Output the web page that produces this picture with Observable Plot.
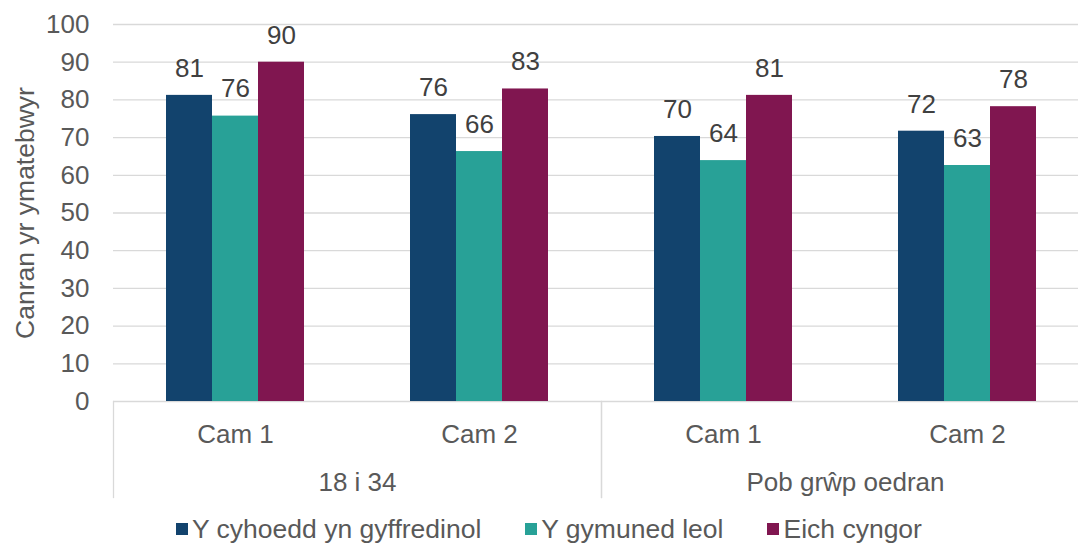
<!DOCTYPE html>
<html>
<head>
<meta charset="utf-8">
<script src="https://cdn.jsdelivr.net/npm/d3@7"></script>
<script src="https://cdn.jsdelivr.net/npm/@observablehq/plot@0.6"></script>
<style>
  html, body { margin: 0; padding: 0; overflow: hidden; background: #fff; }
  #chart svg { display: block; max-width: none !important; }
  .legend { width: 1098px; display: flex; justify-content: center; padding-top: 9px;
    font-family: "Liberation Sans", Arial, sans-serif; font-size: 26.5px; line-height: 30px; color: #595959; }
  .legend .item { display: inline-flex; align-items: center; margin: 0 22px; white-space: nowrap; }
  .legend .sw { width: 12px; height: 12px; margin-right: 4px; display: inline-block; }
</style>
</head>
<body>
<div id="chart"></div>
<script>
// ---- data ----
const groups = ["18 i 34", "Pob grŵp oedran"];
const cams = ["Cam 1", "Cam 2"];
const series = ["Y cyhoedd yn gyffredinol", "Y gymuned leol", "Eich cyngor"];
// values per slot: [18 i 34 Cam 1, 18 i 34 Cam 2, Pob Cam 1, Pob Cam 2]
const publicValues  = [81.2, 76.1, 70.3, 71.7];
const localValues   = [75.7, 66.3, 63.9, 62.6];
const councilValues = [90.0, 82.9, 81.2, 78.2];
const yTicks = [0, 10, 20, 30, 40, 50, 60, 70, 80, 90, 100];
const yLabel = "Canran yr ymatebwyr";
const colors = ["#12436D", "#28A197", "#801650"];

// ---- build table ----
const slots = [];
groups.forEach(g => cams.forEach(c => slots.push({group: g, cam: c, key: g + "|" + c})));
const seriesValues = [publicValues, localValues, councilValues];
const data = [];
slots.forEach((s, i) => series.forEach((name, j) => {
  data.push({group: s.group, cam: s.cam, key: s.key, series: name, value: seriesValues[j][i]});
}));

const W = 1090, H = 505, mTop = 24, mBottom = 104, mLeft = 113, mRight = 1;
const frameH = H - mTop - mBottom;
const sepDepth = 96;
const font = "'Liberation Sans', Arial, sans-serif";

const chart = Plot.plot({
  width: W,
  height: H,
  marginTop: mTop,
  marginBottom: mBottom,
  marginLeft: mLeft,
  marginRight: mRight,
  style: {fontFamily: font, fontSize: "26px", color: "#595959", background: "#fff"},
  fx: {domain: slots.map(s => s.key), padding: 0},
  x: {domain: series, paddingInner: 0, paddingOuter: 1.1, axis: null},
  y: {domain: [0, 100], axis: null},
  color: {domain: series, range: colors},
  marks: [
    Plot.gridY(yTicks, {stroke: "#d9d9d9", strokeOpacity: 1, strokeWidth: 1.3}),
    Plot.axisY({ticks: yTicks, tickSize: 0, tickPadding: 24, label: null, fontSize: 26}),
    Plot.axisFx({anchor: "bottom", tickFormat: d => d.split("|")[1], tickSize: 0, tickPadding: 23, label: null, fontSize: 26}),
    Plot.barY(data, {fx: "key", x: "series", y: "value", fill: "series"}),
    Plot.text(data, {fx: "key", x: "series", y: "value", text: d => d3.format(".0f")(d.value),
      dy: -27, fill: "#404040", fontSize: 26, lineAnchor: "middle"}),
    Plot.text([yLabel], {facet: "super", frameAnchor: "left", rotate: -90, textAnchor: "middle",
      lineAnchor: "middle", dx: -88, fontSize: 26.5, fill: "#595959"}),
    Plot.text(groups, {fx: d => d + "|" + cams[0], text: d => d, frameAnchor: "bottom-right",
      textAnchor: "middle", lineAnchor: "middle", dy: 81, fontSize: 26, fill: "#595959"}),
    ...groups.map(g => Plot.frame({fx: g + "|" + cams[0], anchor: "left", stroke: "#d9d9d9",
      strokeWidth: 1.3, insetTop: frameH, insetBottom: -sepDepth})),
    ...groups.map(g => Plot.frame({fx: g + "|" + cams[cams.length - 1], anchor: "right", stroke: "#d9d9d9",
      strokeWidth: 1.3, insetTop: frameH, insetBottom: -sepDepth}))
  ]
});
document.getElementById("chart").appendChild(chart);

// legend (HTML, below the SVG)
const legend = document.createElement("div");
legend.className = "legend";
series.forEach((name, i) => {
  const item = document.createElement("span");
  item.className = "item";
  const sw = document.createElement("span");
  sw.className = "sw";
  sw.style.background = colors[i];
  const t = document.createElement("span");
  t.textContent = name;
  item.appendChild(sw);
  item.appendChild(t);
  legend.appendChild(item);
});
document.body.appendChild(legend);
</script>
</body>
</html>
